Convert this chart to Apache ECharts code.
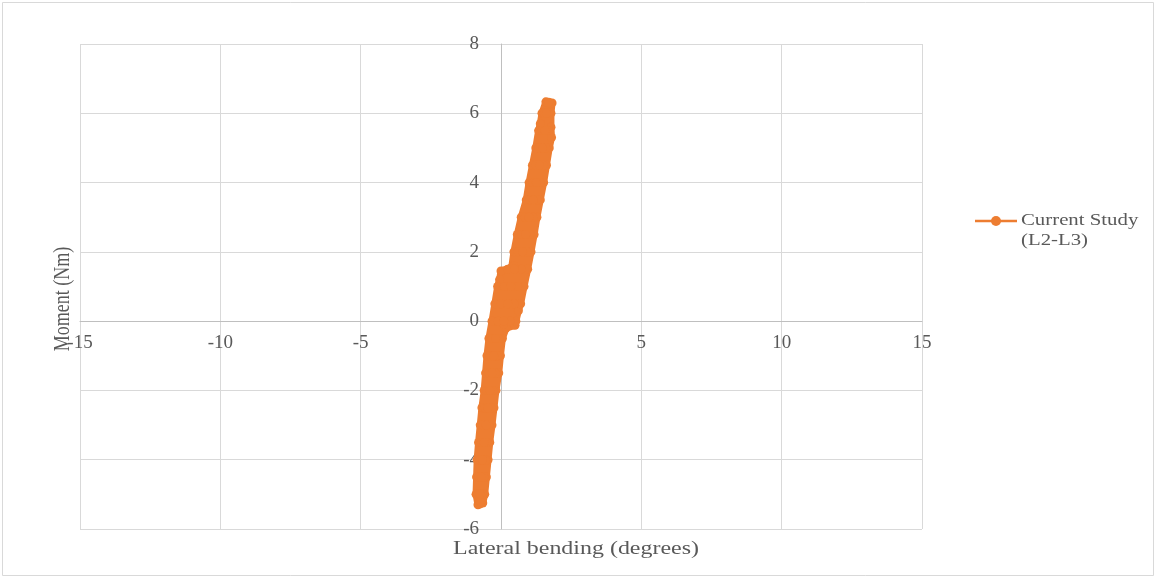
<!DOCTYPE html>
<html>
<head>
<meta charset="utf-8">
<script src="https://cdn.jsdelivr.net/npm/echarts@6/dist/echarts.min.js"></script>
<style>
html,body{margin:0;padding:0;background:#fff;}
#chart{width:1156px;height:578px;}
</style>
</head>
<body>
<div id="chart"></div>
<script>
// Series name and axis titles
const seriesName = 'Current Study (L2-L3)';
const xTitle = 'Lateral bending (degrees)';
const yTitle = 'Moment (Nm)';

// Axis ranges (degrees / Nm)
const xRange = [-15, 15, 5];
const yRange = [-6, 8, 2];

// Loading / unloading passes: [lateral bending (deg), moment (Nm)]
const loadRight = [[-0.65,-5.25],[-0.58,-5.0],[-0.52,-4.5],[-0.46,-4.0],[-0.40,-3.5],[-0.32,-3.0],[-0.25,-2.5],[-0.18,-2.0],[-0.08,-1.5],[-0.02,-1.0],[0.05,-0.5],[0.18,-0.2],[0.50,-0.12],[0.53,0.0],[0.62,0.3],[0.70,0.5],[0.82,1.0],[0.95,1.5],[1.07,2.0],[1.18,2.5],[1.28,3.0],[1.40,3.5],[1.52,4.0],[1.62,4.5],[1.72,5.0],[1.80,5.3],[1.78,5.6],[1.78,6.0],[1.82,6.3]];
const unloadLeft = [[1.60,6.33],[1.46,6.0],[1.40,5.7],[1.34,5.5],[1.24,5.0],[1.12,4.5],[1.00,4.0],[0.90,3.5],[0.72,3.0],[0.58,2.5],[0.46,2.0],[0.38,1.55],[0.0,1.45],[-0.05,1.2],[-0.12,1.0],[-0.22,0.5],[-0.32,0.0],[-0.43,-0.5],[-0.50,-1.0],[-0.55,-1.5],[-0.60,-2.0],[-0.68,-2.5],[-0.74,-3.0],[-0.80,-3.5],[-0.85,-4.0],[-0.87,-4.5],[-0.89,-5.0],[-0.82,-5.3]];
const loadOuter = [[-0.70,-5.2],[-0.66,-5.0],[-0.61,-4.5],[-0.56,-4.0],[-0.50,-3.5],[-0.43,-3.0],[-0.36,-2.5],[-0.29,-2.0],[-0.20,-1.5],[-0.14,-1.0],[-0.07,-0.5],[0.10,-0.1],[0.32,0.0],[0.47,0.5],[0.59,1.0],[0.72,1.5],[0.92,2.0],[1.03,2.5],[1.14,3.0],[1.28,3.5],[1.39,4.0],[1.50,4.5],[1.60,5.0],[1.69,5.5],[1.70,6.0],[1.74,6.3]];
const unloadInner = [[1.66,6.3],[1.54,6.0],[1.46,5.5],[1.36,5.0],[1.25,4.5],[1.13,4.0],[1.03,3.5],[0.86,3.0],[0.73,2.5],[0.61,2.0],[0.45,1.6],[0.24,1.5],[0.12,1.0],[0.01,0.5],[-0.11,0.0],[-0.31,-0.5],[-0.38,-1.0],[-0.43,-1.5],[-0.50,-2.0],[-0.57,-2.5],[-0.64,-3.0],[-0.70,-3.5],[-0.75,-4.0],[-0.78,-4.5],[-0.81,-5.0],[-0.76,-5.28]];
const loadMiddle = [[-0.74,-5.2],[-0.74,-5.0],[-0.70,-4.5],[-0.66,-4.0],[-0.60,-3.5],[-0.53,-3.0],[-0.47,-2.5],[-0.39,-2.0],[-0.32,-1.5],[-0.26,-1.0],[-0.19,-0.5],[0.10,0.0],[0.24,0.5],[0.35,1.0],[0.48,1.5],[0.77,2.0],[0.88,2.5],[1.00,3.0],[1.15,3.5],[1.26,4.0],[1.37,4.5],[1.48,5.0],[1.57,5.5],[1.62,6.0],[1.70,6.32]];

const seriesData = [].concat(loadRight, unloadLeft, loadOuter, unloadInner, loadMiddle);

const orange = '#ED7D31';
const textGrey = '#595959';
const font = '"Liberation Serif", "Times New Roman", serif';

// grid box
const gridL = 80, gridR = 234, gridT = 44, gridB = 49;
const W = 1156, H = 578;
const gridW = W - gridL - gridR, gridH = H - gridT - gridB;
// move the axes (with their labels) onto the zero lines
const xAxisOffset = -gridH * (0 - yRange[0]) / (yRange[1] - yRange[0]);
const yAxisOffset = -gridW * (0 - xRange[0]) / (xRange[1] - xRange[0]);

const chart = echarts.init(document.getElementById('chart'), null, {renderer: 'canvas'});
chart.setOption({
  animation: false,
  backgroundColor: '#ffffff',
  grid: {left: gridL, right: gridR, top: gridT, bottom: gridB, containLabel: false},
  xAxis: {
    type: 'value', min: xRange[0], max: xRange[1], interval: xRange[2],
    position: 'bottom', offset: xAxisOffset,
    axisLine: {show: true, onZero: false, lineStyle: {color: '#bfbfbf', width: 1}},
    axisTick: {show: false},
    splitLine: {show: true, lineStyle: {color: '#d9d9d9', width: 1}},
    axisLabel: {color: textGrey, fontFamily: font, fontSize: 19, margin: 12}
  },
  yAxis: {
    type: 'value', min: yRange[0], max: yRange[1], interval: yRange[2],
    position: 'left', offset: yAxisOffset,
    axisLine: {show: true, onZero: false, lineStyle: {color: '#bfbfbf', width: 1}},
    axisTick: {show: false},
    splitLine: {show: true, lineStyle: {color: '#d9d9d9', width: 1}},
    axisLabel: {color: textGrey, fontFamily: font, fontSize: 19, margin: 22}
  },
  series: [{
    name: seriesName,
    type: 'line',
    data: seriesData,
    symbol: 'circle',
    symbolSize: 9,
    showAllSymbol: true,
    itemStyle: {color: orange},
    lineStyle: {color: orange, width: 7, cap: 'round', join: 'round'},
    z: 3
  }],
  graphic: [
    {type: 'rect', shape: {x: 2.5, y: 2.5, width: 1151, height: 573}, style: {fill: 'none', stroke: '#d9d9d9', lineWidth: 1}, silent: true, z: -1},
    {type: 'text', x: 576, y: 549, scaleX: 1.33, style: {text: xTitle, fill: textGrey, font: '18px ' + font, textAlign: 'center', textVerticalAlign: 'middle'}},
    {type: 'text', x: 63, y: 299, rotation: Math.PI / 2, scaleY: 1.33, style: {text: yTitle, fill: textGrey, font: '18px ' + font, textAlign: 'center', textVerticalAlign: 'middle'}},
    {type: 'line', shape: {x1: 975, y1: 221, x2: 1017, y2: 221}, style: {stroke: orange, lineWidth: 2.5}},
    {type: 'circle', shape: {cx: 996, cy: 221, r: 5}, style: {fill: orange}},
    {type: 'text', x: 1021, y: 221, scaleX: 1.3, style: {text: 'Current Study', fill: textGrey, font: '16px ' + font, textAlign: 'left', textVerticalAlign: 'middle'}},
    {type: 'text', x: 1021, y: 241, scaleX: 1.3, style: {text: '(L2-L3)', fill: textGrey, font: '16px ' + font, textAlign: 'left', textVerticalAlign: 'middle'}}
  ]
});
</script>
</body>
</html>
